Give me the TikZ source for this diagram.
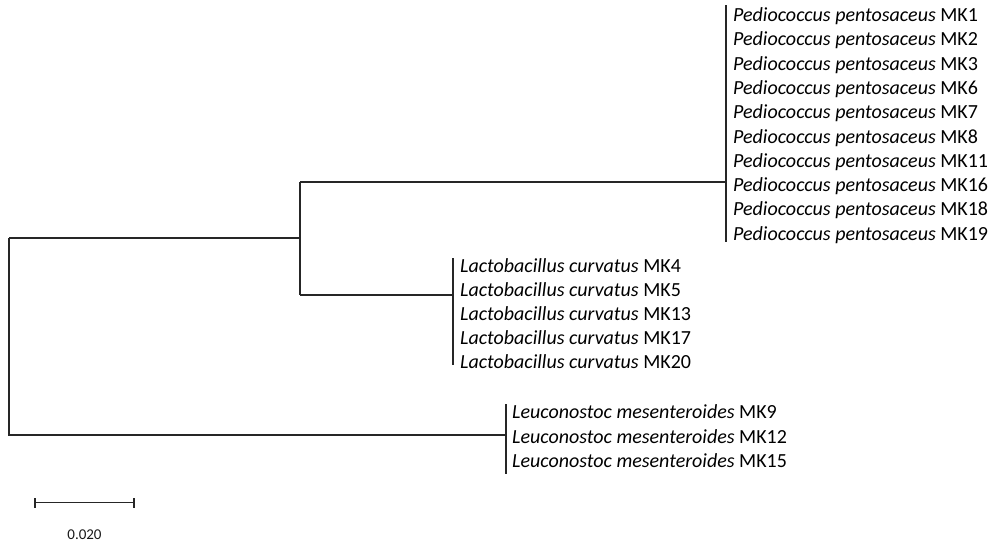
\documentclass[tikz,border=0pt]{standalone}
\usepackage{fontspec}
\setmainfont{Carlito}
\begin{document}
\begin{tikzpicture}[x=1pt,y=-1pt,
  branch/.style={draw=black!85, line width=1.1pt},
  leaf/.style={anchor=base west, inner sep=0pt, font=\fontsize{20}{24}\selectfont, text=black},
  scalelbl/.style={anchor=center, inner sep=0pt, font=\fontsize{15}{18}\selectfont, text=black!90}]
\useasboundingbox[fill=white] (0,0) rectangle (995,546);
% internal nodes
\coordinate (root) at (9,238);
\coordinate (n1) at (300,238);
\coordinate (pedio) at (726,182);
\coordinate (lacto) at (453,295);
\coordinate (leuco) at (506,435);
% leaves: Pediococcus
\foreach \lbl [count=\i from 0] in {MK1,MK2,MK3,MK6,MK7,MK8,MK11,MK16,MK18,MK19}{
  \node[leaf] (p\i) at (733,{21.5+24.3*\i}) {\textit{Pediococcus pentosaceus} \lbl};
}
\foreach \lbl [count=\i from 0] in {MK4,MK5,MK13,MK17,MK20}{
  \node[leaf] (l\i) at (460,{272.5+24.1*\i}) {\textit{Lactobacillus curvatus} \lbl};
}
\foreach \lbl [count=\i from 0] in {MK9,MK12,MK15}{
  \node[leaf] (m\i) at (512,{418.5+24.5*\i}) {\textit{Leuconostoc mesenteroides} \lbl};
}
% tree
\draw[branch] (root |- n1) -- (n1);
\draw[branch] (root) -- (root |- leuco) -- (leuco);
\draw[branch] (n1 |- pedio) -- (n1 |- lacto);
\draw[branch] (n1 |- pedio) -- (pedio);
\draw[branch] (n1 |- lacto) -- (lacto);
\draw[branch] (726,5) -- (726,242);
\draw[branch] (453,258) -- (453,365);
\draw[branch] (506,404) -- (506,474);
% scale bar
\coordinate (sb1) at (35,502.5);
\coordinate (sb2) at (134,502.5);
\draw[branch] (sb1) -- (sb2);
\draw[branch] ([yshift=-5]sb1) -- ([yshift=5]sb1);
\draw[branch] ([yshift=-5]sb2) -- ([yshift=5]sb2);
\node[scalelbl] (sbl) at (84.5,535) {0.020};
\end{tikzpicture}
\end{document}
